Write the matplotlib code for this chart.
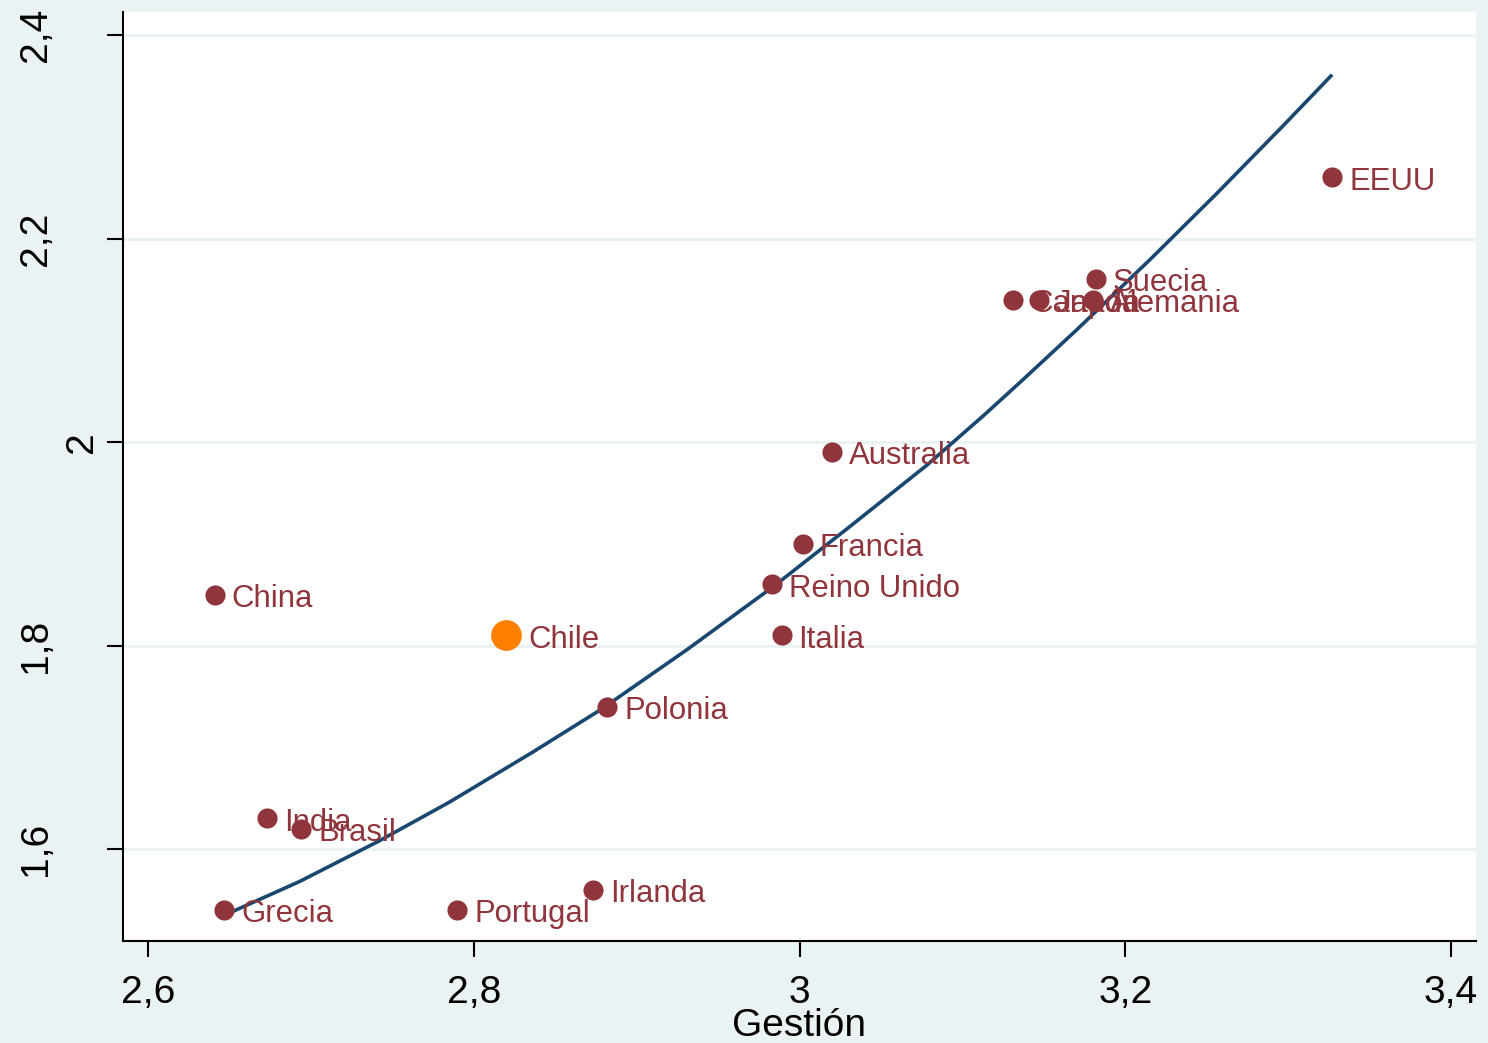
import matplotlib.pyplot as plt

plt.rcParams['font.family'] = ['Liberation Sans', 'DejaVu Sans']

# datos por país (Gestión vs. eje vertical)
paises = ["EEUU", "Suecia", "Canadá", "Japón", "Alemania", "Australia", "Francia",
          "Reino Unido", "Italia", "China", "Chile", "Polonia", "India", "Brasil",
          "Irlanda", "Grecia", "Portugal"]
gestion = [3.327, 3.182, 3.131, 3.147, 3.180, 3.020, 3.002,
           2.983, 2.989, 2.641, 2.820, 2.882, 2.673, 2.694,
           2.873, 2.647, 2.790]
valores = [2.26, 2.16, 2.14, 2.14, 2.14, 1.99, 1.90,
           1.86, 1.81, 1.85, 1.81, 1.74, 1.63, 1.62,
           1.56, 1.54, 1.54]
destacado = "Chile"

# curva de ajuste
curva_x = [2.647, 2.693, 2.742, 2.785, 2.836, 2.878, 2.931, 2.984, 3.031,
           3.078, 3.113, 3.137, 3.170, 3.215, 3.256, 3.297, 3.327]
curva_y = [1.535, 1.568, 1.608, 1.646, 1.695, 1.737, 1.796, 1.858, 1.917,
           1.977, 2.026, 2.061, 2.110, 2.179, 2.244, 2.311, 2.361]

x_ticks = [2.6, 2.8, 3.0, 3.2, 3.4]
x_tick_labels = ["2,6", "2,8", "3", "3,2", "3,4"]
y_ticks = [1.6, 1.8, 2.0, 2.2, 2.4]
y_tick_labels = ["1,6", "1,8", "2", "2,2", "2,4"]

fondo = '#eaf2f3'
granate = '#90353b'
naranja = '#ff8000'
azul = '#1a476f'

fig = plt.figure(figsize=(14.88, 10.43), dpi=100, facecolor=fondo)
ax = fig.add_axes([123 / 1488, 1 - 941 / 1043, (1476 - 123) / 1488, (941 - 12) / 1043])
ax.set_facecolor('white')

for v in y_ticks:
    ax.axhline(v, color=fondo, lw=2.2, zorder=0)

ax.plot(curva_x, curva_y, color=azul, lw=2.6, zorder=2,
        solid_joinstyle='round', solid_capstyle='butt')

for p, gx, gy in zip(paises, gestion, valores):
    if p == destacado:
        s, col = 490, naranja
    else:
        s, col = 210, granate
    ax.scatter(gx, gy, s=s, color=col, linewidths=0, zorder=3)
    r = s ** 0.5 / 2
    ax.annotate(p, (gx, gy), xytext=(r + 5, -3), textcoords='offset points',
                ha='left', va='center', fontsize=22.4, color=granate, zorder=4)

ax.set_xlim(2.5847, 3.4153)
ax.set_ylim(1.5096, 2.4226)

for side in ['top', 'right']:
    ax.spines[side].set_visible(False)
for side in ['left', 'bottom']:
    ax.spines[side].set_linewidth(1.5)
    ax.spines[side].set_color('black')

ax.set_xticks(x_ticks, x_tick_labels)
ax.tick_params(axis='x', length=11.5, width=1.5, pad=13, labelsize=28)
ax.set_yticks(y_ticks)
ax.set_yticklabels([])
ax.tick_params(axis='y', length=11.5, width=1.5)

# etiquetas verticales del eje y
for v, lab in zip(y_ticks, y_tick_labels):
    off = 50 if ',' in lab else 16.5
    ax.annotate(lab, xy=(0, v), xycoords=ax.get_yaxis_transform(),
                xytext=(-off, 0), textcoords='offset points',
                rotation=90, ha='right', va='center', fontsize=28)

ax.set_xlabel('Gestión', fontsize=28, labelpad=-2)

fig.savefig('out.png', dpi=100, facecolor=fondo)
